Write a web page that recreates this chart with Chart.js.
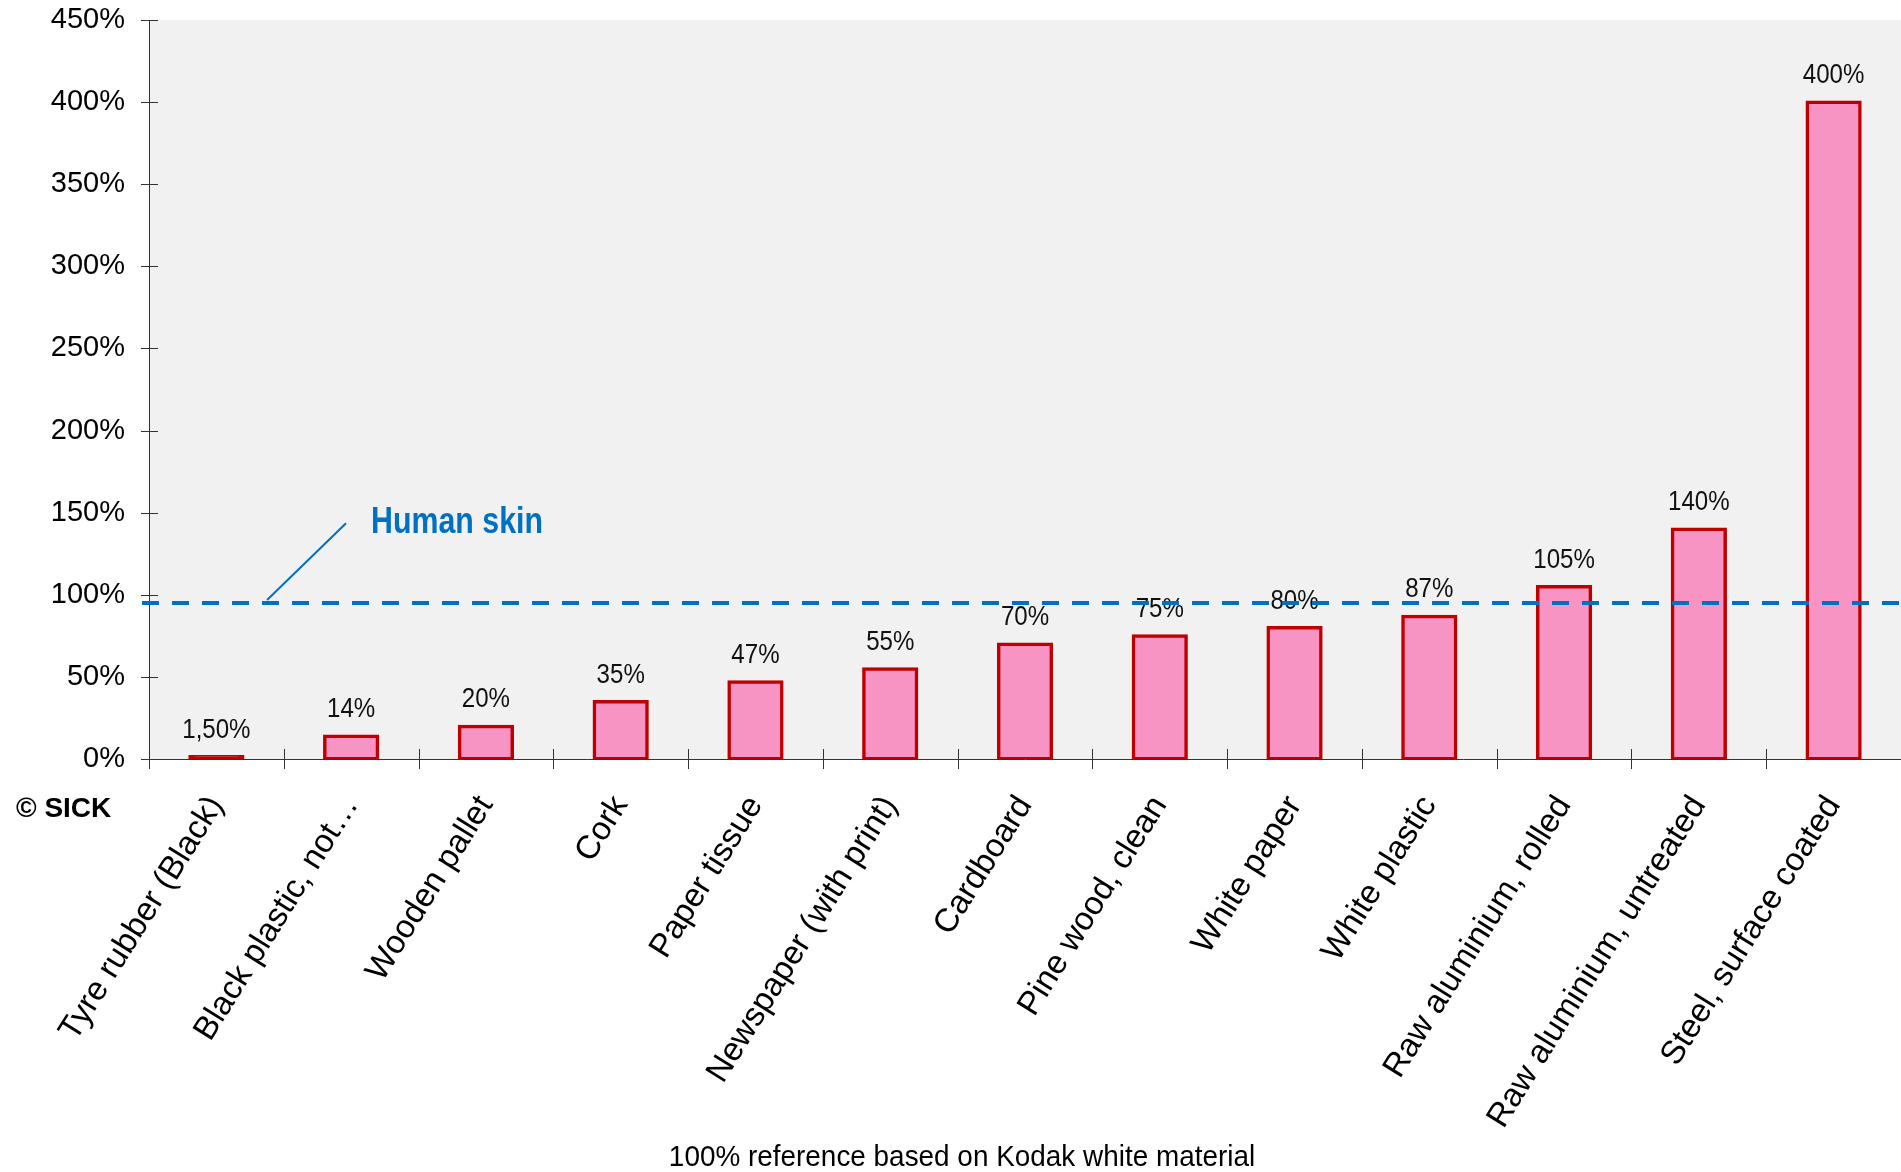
<!DOCTYPE html>
<html>
<head>
<meta charset="utf-8">
<title>Remission of materials</title>
<script src="https://cdn.jsdelivr.net/npm/chart.js@4.4.1/dist/chart.umd.min.js"></script>
<style>
    html, body { margin: 0; padding: 0; background: #ffffff; }
    #wrap { width: 1901px; height: 1172px; }
</style>
</head>
<body>
<div id="wrap"><canvas id="remission-chart" width="1901" height="1172"></canvas></div>
<script>
// Materials on the x axis
const materials = [
    'Tyre rubber (Black)',
    'Black plastic, not\u2026',
    'Wooden pallet',
    'Cork',
    'Paper tissue',
    'Newspaper (with print)',
    'Cardboard',
    'Pine wood, clean',
    'White paper',
    'White plastic',
    'Raw aluminium, rolled',
    'Raw aluminium, untreated',
    'Steel, surface coated'
];

// Remission in % of Kodak white
const remission = [1.5, 14, 20, 35, 47, 55, 70, 75, 80, 87, 105, 140, 400];
const remissionLabels = ['1,50%', '14%', '20%', '35%', '47%', '55%', '70%', '75%', '80%', '87%', '105%', '140%', '400%'];

// Y axis ticks
const yTicks = [0, 50, 100, 150, 200, 250, 300, 350, 400, 450];

// Human skin reference level
const humanSkinLevel = 95;
const humanSkinText = 'Human skin';

const xAxisTitle = '100% reference based on Kodak white material';
const copyrightText = '\u00a9 SICK';

const pinkFill = '#f794c4';
const redBorder = '#c00000';
const skinBlue = '#0070c0';
const axisColor = '#333333';
const sansFont = '"Liberation Sans", Arial, sans-serif';
const barBorder = 3.5;

// Draw text squeezed horizontally (condensed look)
function drawNarrow(ctx, text, x, y, squeeze) {
    ctx.save();
    ctx.translate(x, y);
    ctx.scale(squeeze, 1);
    ctx.fillText(text, 0, 0);
    ctx.restore();
}

// Bars thinner than their outline look solid red, like a centred stroke
function barFill(context) {
    const y = context.chart.scales.y;
    const v = context.raw;
    if (!y || typeof v !== 'number') return pinkFill;
    const h = Math.abs(y.getPixelForValue(0) - y.getPixelForValue(v));
    return h < 2 * barBorder ? redBorder : pinkFill;
}

// Grey plot background
const plotBackground = {
    id: 'plotBackground',
    beforeDraw(chart) {
        const { ctx, chartArea } = chart;
        ctx.save();
        ctx.fillStyle = '#f1f1f1';
        ctx.fillRect(chartArea.left, chartArea.top, chartArea.right - chartArea.left, chartArea.bottom - chartArea.top);
        ctx.restore();
    }
};

// Tick marks crossing both axes, Excel style
const crossTicks = {
    id: 'crossTicks',
    afterDraw(chart) {
        const { ctx, chartArea } = chart;
        const x = chart.scales.x;
        const y = chart.scales.y;
        ctx.save();
        ctx.strokeStyle = axisColor;
        ctx.lineWidth = 1;
        ctx.beginPath();
        yTicks.forEach(v => {
            const py = Math.round(y.getPixelForValue(v)) + 0.5;
            ctx.moveTo(chartArea.left - 8, py);
            ctx.lineTo(chartArea.left + 9, py);
        });
        for (let i = 0; i <= materials.length - 1; i++) {
            const px = Math.round(x.getPixelForValue(i - 0.5)) + 0.5;
            ctx.moveTo(px, chartArea.bottom - (i === 0 ? 0 : 10));
            ctx.lineTo(px, chartArea.bottom + 10);
        }
        ctx.stroke();
        ctx.restore();
    }
};

// Value labels above the bars
const valueLabels = {
    id: 'valueLabels',
    afterDatasetsDraw(chart) {
        const { ctx } = chart;
        const meta = chart.getDatasetMeta(0);
        ctx.save();
        ctx.font = '28px ' + sansFont;
        ctx.fillStyle = '#111111';
        ctx.textAlign = 'center';
        ctx.textBaseline = 'alphabetic';
        meta.data.forEach((bar, i) => {
            drawNarrow(ctx, remissionLabels[i], bar.x, bar.y - 19, 0.86);
        });
        ctx.restore();
    }
};

// Human skin dashed line with leader and label
const humanSkin = {
    id: 'humanSkin',
    afterDatasetsDraw(chart) {
        const { ctx, chartArea } = chart;
        const x = chart.scales.x;
        const y = chart.scales.y;
        const py = y.getPixelForValue(humanSkinLevel);
        ctx.save();
        ctx.strokeStyle = skinBlue;
        ctx.lineWidth = 4;
        ctx.setLineDash([17, 13]);
        ctx.beginPath();
        ctx.moveTo(chartArea.left - 7, py);
        ctx.lineTo(chartArea.right, py);
        ctx.stroke();

        ctx.setLineDash([]);
        ctx.lineWidth = 2;
        ctx.beginPath();
        ctx.moveTo(x.getPixelForValue(0.376), py - 3);
        ctx.lineTo(x.getPixelForValue(0.962), y.getPixelForValue(143.5));
        ctx.stroke();

        ctx.fillStyle = skinBlue;
        ctx.font = 'bold 36px ' + sansFont;
        ctx.textAlign = 'left';
        ctx.textBaseline = 'alphabetic';
        drawNarrow(ctx, humanSkinText, x.getPixelForValue(1.147), y.getPixelForValue(137.4), 0.843);
        ctx.restore();
    }
};

// Copyright and bottom note
const footerTexts = {
    id: 'footerTexts',
    afterDraw(chart) {
        const { ctx } = chart;
        ctx.save();
        ctx.fillStyle = '#000000';
        ctx.textBaseline = 'alphabetic';
        ctx.font = 'bold 28px ' + sansFont;
        ctx.textAlign = 'left';
        ctx.fillText(copyrightText, 16, 817);
        ctx.font = '30px ' + sansFont;
        ctx.textAlign = 'center';
        drawNarrow(ctx, xAxisTitle, 962, 1166, 0.93);
        ctx.restore();
    }
};

const ctx = document.getElementById('remission-chart').getContext('2d');
new Chart(ctx, {
    type: 'bar',
    data: {
        labels: materials,
        datasets: [{
            label: 'Remission',
            data: remission,
            backgroundColor: barFill,
            borderColor: redBorder,
            borderWidth: barBorder,
            borderSkipped: false,
            inflateAmount: 1.5,
            barPercentage: 0.395,
            categoryPercentage: 1
        }]
    },
    options: {
        responsive: false,
        devicePixelRatio: 1,
        animation: false,
        layout: { padding: { top: 20, right: 0, bottom: 0, left: 0 } },
        scales: {
            x: {
                grid: { display: false, drawTicks: false },
                border: { display: true, color: axisColor, width: 1 },
                ticks: {
                    autoSkip: false,
                    minRotation: 58,
                    maxRotation: 58,
                    padding: 30,
                    color: '#000000',
                    font: { family: sansFont, size: 33 }
                },
                afterFit(scale) {
                    scale.height = 413;
                    scale.paddingRight = 0;
                    scale.paddingLeft = 0;
                }
            },
            y: {
                min: 0,
                max: 450,
                grid: { display: false, drawTicks: false },
                border: { display: true, color: axisColor, width: 1 },
                afterBuildTicks(scale) {
                    scale.ticks = yTicks.map(v => ({ value: v }));
                },
                ticks: {
                    padding: 24,
                    color: '#000000',
                    font: { family: sansFont, size: 29 },
                    callback: value => value + '%'
                },
                afterFit(scale) {
                    scale.width = 149;
                    scale.paddingTop = 0;
                    scale.paddingBottom = 0;
                }
            }
        },
        plugins: {
            legend: { display: false },
            title: { display: false },
            tooltip: { enabled: false }
        }
    },
    plugins: [plotBackground, crossTicks, valueLabels, humanSkin, footerTexts]
});
</script>
</body>
</html>
